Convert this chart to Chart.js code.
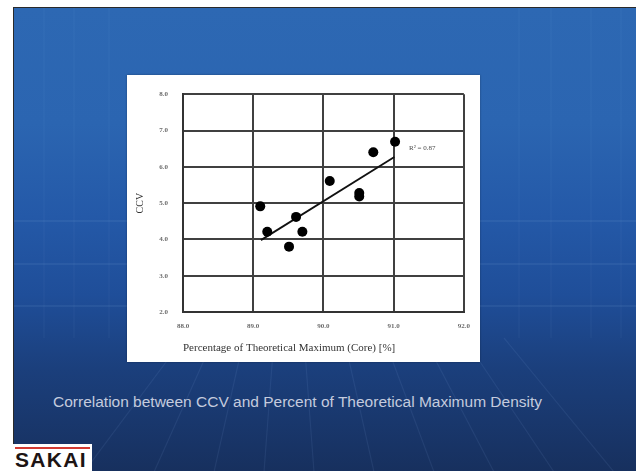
<!DOCTYPE html>
<html><head><meta charset="utf-8">
<script src="https://cdn.jsdelivr.net/npm/chart.js@4.4.1/dist/chart.umd.min.js"></script>
<style>
html,body{margin:0;padding:0;width:636px;height:471px;overflow:hidden;background:#fff;position:relative}
#slide{position:absolute;left:13px;top:7px;width:623px;height:464px;box-sizing:border-box;border-left:1px solid #2a2a2a;border-top:1px solid #2a2a2a;overflow:hidden;
 background:linear-gradient(to bottom,#2d68b3 0%,#2b65b1 25%,#2459a8 45%,#1f4e99 62%,#1b3f7c 78%,#17305e 100%);}
#deco{position:absolute;left:0;top:0}
#box{position:absolute;left:127px;top:75px;width:353px;height:287px;background:#fff;box-shadow:0 0 2px rgba(0,0,0,0.35)}
#box canvas{display:block}
#caption{position:absolute;left:53px;top:393px;font-family:"Liberation Sans",Arial,sans-serif;font-size:15.5px;line-height:18px;color:#c4cbde;white-space:nowrap}
#logo{position:absolute;left:13px;top:444px;width:79px;height:27px;background:#fff;overflow:hidden}
#logo .bar{position:absolute;left:2px;top:3px;width:75px;height:2px;background:#d23a32}
#logo .txt{position:absolute;left:2px;top:4px;font-family:"Liberation Sans",Arial,sans-serif;font-weight:bold;font-size:21px;line-height:23px;letter-spacing:1.3px;color:#1d1414}
</style></head>
<body>
<div id="slide">
<svg id="deco" width="623" height="464" xmlns="http://www.w3.org/2000/svg">
 <g stroke="rgba(170,200,245,0.08)" stroke-width="2">
  <line x1="0" y1="213" x2="623" y2="213"/>
  <line x1="0" y1="256" x2="623" y2="256"/>
  <line x1="0" y1="298" x2="623" y2="298"/>
 </g>
 <g stroke="rgba(170,200,245,0.06)" stroke-width="1">
  <line x1="30" y1="0" x2="30" y2="330"/>
  <line x1="60" y1="0" x2="60" y2="330"/>
  <line x1="95" y1="0" x2="95" y2="330"/>
  <line x1="505" y1="0" x2="505" y2="330"/>
  <line x1="537" y1="0" x2="537" y2="330"/>
  <line x1="577" y1="0" x2="577" y2="330"/>
  <line x1="607" y1="0" x2="607" y2="330"/>
 </g>
 <g stroke="rgba(160,190,240,0.09)" stroke-width="1.2">
  <line x1="170" y1="330" x2="70" y2="464"/>
  <line x1="200" y1="330" x2="140" y2="464"/>
  <line x1="230" y1="330" x2="200" y2="464"/>
  <line x1="260" y1="330" x2="250" y2="464"/>
  <line x1="290" y1="330" x2="300" y2="464"/>
  <line x1="330" y1="330" x2="360" y2="464"/>
  <line x1="370" y1="330" x2="420" y2="464"/>
  <line x1="410" y1="330" x2="480" y2="464"/>
  <line x1="450" y1="330" x2="540" y2="464"/>
  <line x1="490" y1="330" x2="600" y2="464"/>
 </g>
</svg>
</div>
<div id="box"><canvas id="c" width="353" height="287"></canvas></div>
<div id="caption">Correlation between CCV and Percent of Theoretical Maximum Density</div>
<div id="logo"><div class="bar"></div><div class="txt">SAKAI</div></div>
<script>
// ---- data ----
const xTickLabels = ["88.0", "89.0", "90.0", "91.0", "92.0"];
const yTickLabels = ["2.0", "3.0", "4.0", "5.0", "6.0", "7.0", "8.0"];
const percentTMD = [89.10, 89.20, 89.51, 89.61, 89.70, 90.09, 90.51, 90.51, 90.71, 91.02];
const ccvValues  = [4.91, 4.21, 3.80, 4.62, 4.21, 5.61, 5.28, 5.18, 6.40, 6.69];
const trendX = [89.11, 91.01];
const trendY = [3.98, 6.27];
const r2Text = "R\u00B2 = 0.87";
const r2Pos = [91.22, 6.52];
const xTitle = "Percentage of Theoretical Maximum (Core) [%]";
const yTitle = "CCV";

const serif = '"Liberation Serif","Times New Roman",serif';

const r2Plugin = {
  id: 'r2label',
  afterDatasetsDraw(chart) {
    const {ctx, scales} = chart;
    ctx.save();
    ctx.font = '7px ' + serif;
    ctx.fillStyle = '#4a4a4a';
    ctx.textBaseline = 'middle';
    ctx.textAlign = 'left';
    ctx.fillText(r2Text, scales.x.getPixelForValue(r2Pos[0]), scales.y.getPixelForValue(r2Pos[1]));
    ctx.restore();
  }
};

new Chart(document.getElementById('c'), {
  type: 'scatter',
  data: {
    datasets: [
      {
        label: 'CCV',
        data: percentTMD.map((x, i) => ({x, y: ccvValues[i]})),
        backgroundColor: '#000',
        borderColor: '#000',
        pointRadius: 5,
        pointBorderWidth: 0,
        order: 0
      },
      {
        type: 'line',
        label: 'trend',
        data: trendX.map((x, i) => ({x, y: trendY[i]})),
        borderColor: '#111',
        borderWidth: 1.8,
        pointRadius: 0,
        fill: false,
        order: 1
      }
    ]
  },
  options: {
    responsive: false,
    animation: false,
    layout: {padding: {left: 0, top: 11, right: 15, bottom: 0}},
    plugins: {legend: {display: false}, tooltip: {enabled: false}},
    scales: {
      x: {
        type: 'linear', min: 88, max: 92,
        afterFit(s) { s.height = 50; },
        ticks: {stepSize: 1, padding: 10, color: '#6a6a6a', font: {family: serif, size: 7, weight: 'bold'},
                callback: (v, i) => xTickLabels[i]},
        grid: {color: '#404040', lineWidth: 2, drawTicks: false},
        border: {display: true, color: '#333', width: 2},
        title: {display: true, text: xTitle, align: 'start', color: '#333', font: {family: serif, size: 11}, padding: {top: 0, bottom: 7}}
      },
      y: {
        type: 'linear', min: 2, max: 8,
        afterFit(s) { s.width = 56; },
        ticks: {stepSize: 1, padding: 15, color: '#6a6a6a', font: {family: serif, size: 7, weight: 'bold'},
                callback: (v, i) => yTickLabels[i]},
        grid: {color: '#404040', lineWidth: 2, drawTicks: false},
        border: {display: true, color: '#333', width: 2},
        title: {display: true, text: yTitle, color: '#333', font: {family: serif, size: 10}, padding: {top: 7, bottom: 0}}
      }
    }
  },
  plugins: [r2Plugin]
});
</script>
</body></html>
